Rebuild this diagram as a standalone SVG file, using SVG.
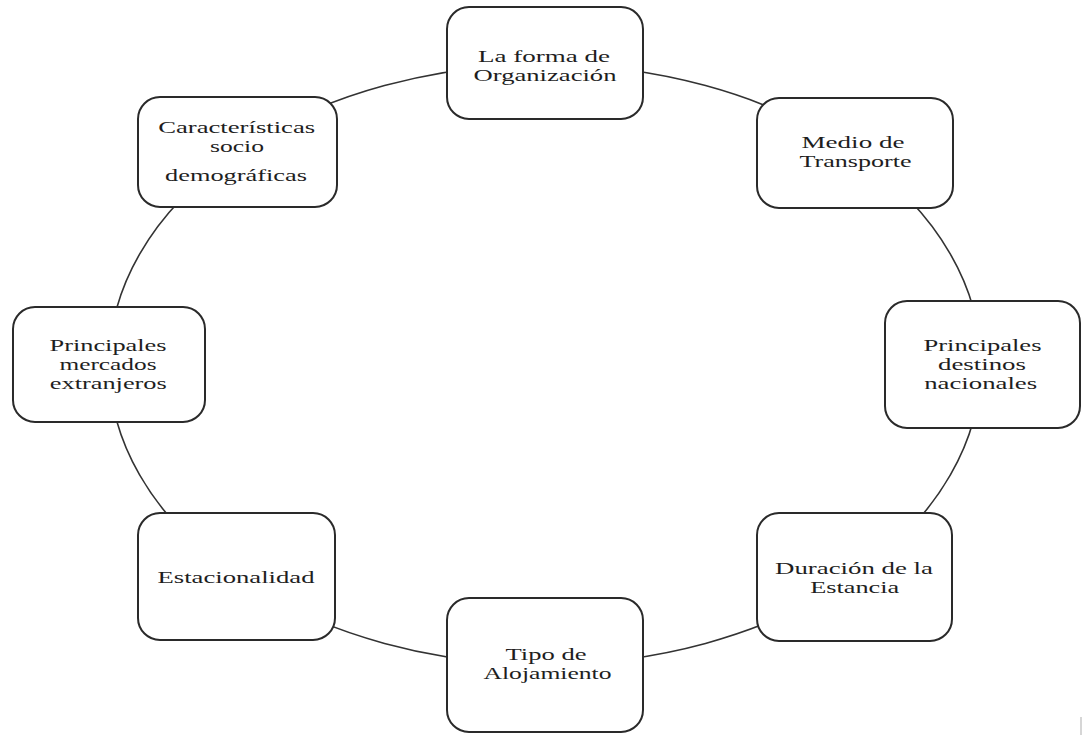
<svg xmlns="http://www.w3.org/2000/svg" width="1082" height="735" viewBox="0 0 1082 735">
<style>
.box{fill:#fff;stroke:#2a2a2a;stroke-width:2}
.lbl{font-family:"Liberation Serif","Times New Roman",serif;font-size:17px;fill:#1e1e1e;text-anchor:middle}
.conn{fill:none;stroke:#333;stroke-width:1.6}
</style>
<rect width="1082" height="735" fill="#fff"/>
<g id="connectors">
<ellipse class="conn" cx="545" cy="364.5" rx="436" ry="300"/>
</g>
<g id="n1">
<rect class="box" x="447" y="7" width="196" height="112" rx="22"/>
<text class="lbl" x="544" y="62" textLength="132" lengthAdjust="spacingAndGlyphs">La forma de</text>
<text class="lbl" x="545" y="81" textLength="143" lengthAdjust="spacingAndGlyphs">Organización</text>
</g>
<g id="n2">
<rect class="box" x="757" y="98" width="196" height="110" rx="22"/>
<text class="lbl" x="853" y="148" textLength="103" lengthAdjust="spacingAndGlyphs">Medio de</text>
<text class="lbl" x="855.5" y="167" textLength="112" lengthAdjust="spacingAndGlyphs">Transporte</text>
</g>
<g id="n3">
<rect class="box" x="885" y="301" width="195" height="127" rx="22"/>
<text class="lbl" x="982.5" y="351" textLength="118" lengthAdjust="spacingAndGlyphs">Principales</text>
<text class="lbl" x="982" y="370" textLength="88" lengthAdjust="spacingAndGlyphs">destinos</text>
<text class="lbl" x="980.7" y="389" textLength="113" lengthAdjust="spacingAndGlyphs">nacionales</text>
</g>
<g id="n4">
<rect class="box" x="757" y="513" width="195" height="128" rx="22"/>
<text class="lbl" x="854" y="574" textLength="158" lengthAdjust="spacingAndGlyphs">Duración de la</text>
<text class="lbl" x="854.7" y="593" textLength="89" lengthAdjust="spacingAndGlyphs">Estancia</text>
</g>
<g id="n5">
<rect class="box" x="447" y="598" width="196" height="134" rx="22"/>
<text class="lbl" x="546" y="660" textLength="81" lengthAdjust="spacingAndGlyphs">Tipo de</text>
<text class="lbl" x="547.5" y="679" textLength="128" lengthAdjust="spacingAndGlyphs">Alojamiento</text>
</g>
<g id="n6">
<rect class="box" x="138" y="513" width="197" height="127" rx="22"/>
<text class="lbl" x="236" y="583" textLength="157" lengthAdjust="spacingAndGlyphs">Estacionalidad</text>
</g>
<g id="n7">
<rect class="box" x="13" y="307" width="192" height="115" rx="22"/>
<text class="lbl" x="108" y="351" textLength="117" lengthAdjust="spacingAndGlyphs">Principales</text>
<text class="lbl" x="108" y="370" textLength="97" lengthAdjust="spacingAndGlyphs">mercados</text>
<text class="lbl" x="108.3" y="389" textLength="117" lengthAdjust="spacingAndGlyphs">extranjeros</text>
</g>
<g id="n8">
<rect class="box" x="138" y="97" width="199" height="110" rx="22"/>
<text class="lbl" x="236.7" y="133" textLength="157" lengthAdjust="spacingAndGlyphs">Características</text>
<text class="lbl" x="237" y="152" textLength="54" lengthAdjust="spacingAndGlyphs">socio</text>
<text class="lbl" x="236" y="181" textLength="142" lengthAdjust="spacingAndGlyphs">demográficas</text>
</g>
<line x1="1081" y1="717" x2="1081" y2="735" stroke="#c8c8c8" stroke-width="1.5"/>
</svg>
